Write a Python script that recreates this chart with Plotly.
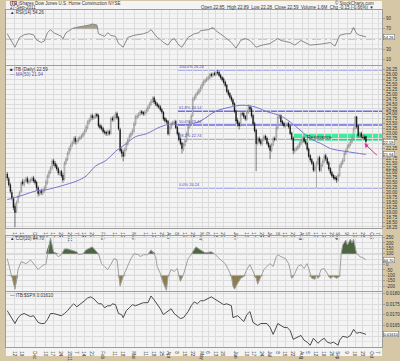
import pandas as pd
import plotly.graph_objects as go

# ---------------- data ----------------
opens = [20.95, 20.70, 20.40, 20.00, 19.70, 19.30, 19.05, 19.55, 19.85, 20.05,
         20.55, 20.40, 20.60, 20.72, 20.50, 20.58, 20.62, 20.75, 20.62, 20.52,
         20.25, 19.90, 20.08, 19.95, 20.08, 20.25, 20.50, 20.82, 21.02, 21.25,
         21.62, 21.48, 21.38, 21.22, 20.95, 21.08, 20.88, 20.70, 21.50, 21.68,
         22.00, 22.20, 22.40, 22.52, 22.78, 22.55, 22.62, 22.72, 22.78, 22.86,
         22.98, 23.12, 23.30, 23.55, 23.68, 23.92, 23.78, 23.82, 23.98, 23.92,
         23.42, 23.35, 23.26, 23.10, 23.08, 22.95, 23.12, 23.00, 23.78, 23.68,
         23.82, 24.02, 23.82, 23.20, 22.18, 22.05, 21.88, 22.18, 22.45, 22.68,
         22.86, 22.98, 23.12, 23.48, 23.82, 23.88, 23.98, 24.12, 24.08, 23.98,
         24.08, 24.18, 24.32, 24.48, 24.62, 24.82, 24.62, 24.52, 24.42, 24.36,
         24.22, 24.10, 23.78, 23.68, 23.62, 23.00, 23.28, 23.46, 23.52, 23.62,
         23.32, 23.02, 22.74, 22.52, 22.20, 22.42, 22.62, 22.98, 23.32, 23.58,
         23.92, 24.72, 24.84, 24.98, 25.06, 25.18, 25.32, 25.48, 25.62, 25.68,
         25.78, 25.82, 26.02, 25.92, 26.06, 25.98, 26.12, 26.12, 25.98, 25.86,
         25.78, 25.62, 25.46, 25.18, 25.04, 24.86, 24.72, 24.52, 24.16, 23.68,
         23.54, 23.40, 24.02, 24.02, 23.88, 23.72, 24.08, 24.36, 24.26, 23.92,
         23.52, 23.18, 22.50, 22.76, 22.64, 22.48, 22.68, 22.88, 22.76, 22.52,
         22.38, 22.12, 22.42, 22.76, 22.70, 23.28, 23.82, 23.92, 23.62, 23.52,
         23.36, 23.42, 23.52, 23.36, 23.02, 22.78, 22.10, 22.18, 22.22, 22.32,
         22.46, 22.58, 22.78, 22.62, 22.52, 22.22, 21.88, 21.68, 21.52, 21.12,
         21.28, 21.46, 21.78, 21.12, 21.38, 21.56, 21.88, 21.72, 21.52, 21.22,
         21.02, 20.88, 20.78, 20.74, 20.62, 20.86, 21.30, 21.48, 21.62, 21.96,
         22.10, 22.30, 22.42, 22.56, 22.72, 23.26, 23.86, 23.38, 22.86, 23.02,
         22.82, 22.82, 22.85]
highs = [21.05, 20.80, 20.50, 20.15, 19.80, 19.45, 19.60, 19.90, 20.10, 20.60,
         20.70, 20.68, 20.80, 20.82, 20.70, 20.75, 20.82, 20.85, 20.70, 20.60,
         20.35, 20.15, 20.20, 20.20, 20.35, 20.65, 20.95, 21.15, 21.35, 21.70,
         21.72, 21.60, 21.48, 21.30, 21.15, 21.15, 21.00, 21.60, 21.80, 22.10,
         22.35, 22.50, 22.65, 22.85, 22.88, 22.75, 22.85, 22.90, 22.98, 23.10,
         23.25, 23.45, 23.70, 23.80, 24.00, 24.02, 23.95, 24.05, 24.05, 24.00,
         23.50, 23.45, 23.35, 23.20, 23.15, 23.20, 23.20, 23.85, 23.88, 23.95,
         24.10, 24.12, 23.90, 23.30, 22.30, 22.15, 22.30, 22.60, 22.80, 23.00,
         23.10, 23.25, 23.60, 23.95, 24.00, 24.10, 24.20, 24.20, 24.15, 24.20,
         24.30, 24.45, 24.60, 24.75, 24.89, 24.90, 24.72, 24.60, 24.52, 24.45,
         24.30, 24.15, 23.85, 23.78, 23.70, 23.40, 23.60, 23.65, 23.70, 23.70,
         23.40, 23.10, 22.82, 22.60, 22.55, 22.75, 23.10, 23.45, 23.70, 24.00,
         24.85, 24.95, 25.10, 25.20, 25.30, 25.45, 25.60, 25.75, 25.80, 25.90,
         25.95, 26.08, 26.10, 26.12, 26.15, 26.20, 26.24, 26.20, 26.05, 25.92,
         25.85, 25.70, 25.52, 25.25, 25.10, 24.95, 24.80, 24.60, 24.22, 23.80,
         23.62, 24.08, 24.10, 24.10, 23.95, 24.20, 24.49, 24.45, 24.35, 24.00,
         23.60, 23.25, 22.85, 22.85, 22.72, 22.80, 22.95, 22.95, 22.85, 22.60,
         22.45, 22.55, 22.85, 22.85, 23.40, 23.95, 24.00, 23.98, 23.70, 23.60,
         23.55, 23.58, 23.60, 23.45, 23.10, 22.85, 22.30, 22.35, 22.45, 22.60,
         22.70, 22.85, 22.85, 22.70, 22.60, 22.30, 21.95, 21.75, 21.60, 21.40,
         21.60, 21.85, 21.88, 21.50, 21.70, 21.95, 21.98, 21.82, 21.60, 21.30,
         21.10, 20.95, 20.88, 20.85, 21.00, 21.45, 21.60, 21.75, 22.10, 22.25,
         22.45, 22.55, 22.70, 22.85, 23.35, 23.89, 23.90, 23.45, 23.10, 23.10,
         22.95, 22.90, 22.89]
lows = [20.60, 20.30, 19.95, 19.60, 19.10, 18.24, 18.95, 19.45, 19.75, 19.98,
        20.35, 20.30, 20.50, 20.45, 20.40, 20.48, 20.52, 20.50, 20.40, 20.10,
        19.80, 19.82, 19.88, 19.85, 19.98, 20.15, 20.40, 20.72, 20.95, 21.15,
        21.35, 21.25, 21.10, 20.88, 20.85, 20.75, 20.50, 20.60, 21.40, 21.60,
        21.90, 22.10, 22.30, 22.45, 22.45, 22.45, 22.55, 22.65, 22.70, 22.80,
        22.90, 23.05, 23.20, 23.45, 23.60, 23.70, 23.70, 23.75, 23.80, 23.30,
        23.20, 23.15, 23.00, 22.95, 22.88, 22.88, 22.90, 22.95, 23.60, 23.60,
        23.75, 23.70, 23.15, 22.05, 21.80, 21.59, 21.80, 22.10, 22.38, 22.60,
        22.78, 22.90, 23.05, 23.40, 23.72, 23.80, 23.90, 23.95, 23.90, 23.90,
        24.00, 24.10, 24.25, 24.40, 24.55, 24.50, 24.40, 24.32, 24.25, 24.12,
        24.00, 23.65, 23.55, 23.50, 22.90, 22.90, 23.20, 23.38, 23.45, 23.22,
        22.90, 22.60, 22.40, 21.99, 22.10, 22.35, 22.55, 22.90, 23.25, 23.50,
        23.85, 24.65, 24.75, 24.92, 25.00, 25.10, 25.25, 25.40, 25.55, 25.62,
        25.70, 25.75, 25.85, 25.85, 25.92, 25.92, 26.00, 25.88, 25.75, 25.65,
        25.50, 25.35, 25.05, 24.90, 24.75, 24.60, 24.40, 24.05, 23.50, 23.35,
        23.20, 23.35, 23.90, 23.75, 23.65, 23.65, 24.00, 24.15, 23.80, 23.40,
        23.05, 21.09, 22.40, 22.50, 22.38, 22.40, 22.60, 22.65, 22.42, 22.25,
        21.70, 22.05, 22.35, 22.60, 22.62, 23.20, 23.75, 23.50, 23.40, 23.30,
        23.30, 23.35, 23.25, 22.92, 22.65, 21.95, 22.00, 22.10, 22.15, 22.25,
        22.38, 22.50, 22.52, 22.40, 22.10, 21.75, 21.55, 21.40, 21.05, 21.05,
        20.24, 21.40, 21.05, 21.05, 21.30, 21.50, 21.60, 21.40, 21.10, 20.90,
        20.75, 20.65, 20.60, 20.49, 20.55, 20.80, 21.25, 21.40, 21.55, 21.90,
        22.05, 22.25, 22.35, 22.50, 22.65, 23.20, 23.25, 22.80, 22.80, 22.75,
        22.70, 22.68, 22.28]
closes = [20.74, 20.39, 20.05, 19.74, 19.24, 18.99, 19.49, 19.80, 19.99, 20.49,
          20.45, 20.59, 20.70, 20.54, 20.60, 20.64, 20.72, 20.59, 20.50, 20.24,
          19.94, 20.05, 19.99, 20.10, 20.24, 20.55, 20.84, 21.05, 21.24, 21.59,
          21.45, 21.34, 21.20, 20.99, 21.05, 20.84, 20.64, 21.49, 21.70, 21.99,
          22.24, 22.39, 22.55, 22.74, 22.59, 22.65, 22.74, 22.80, 22.89, 23.00,
          23.14, 23.35, 23.59, 23.70, 23.89, 23.80, 23.84, 23.95, 23.89, 23.39,
          23.30, 23.24, 23.09, 23.05, 22.99, 23.10, 22.99, 23.74, 23.70, 23.84,
          23.99, 23.80, 23.24, 22.14, 22.00, 21.84, 22.20, 22.49, 22.70, 22.89,
          23.00, 23.14, 23.50, 23.84, 23.90, 24.00, 24.09, 24.05, 23.99, 24.10,
          24.20, 24.34, 24.50, 24.64, 24.79, 24.60, 24.49, 24.40, 24.34, 24.20,
          24.09, 23.74, 23.65, 23.59, 22.99, 23.30, 23.49, 23.55, 23.59, 23.30,
          22.99, 22.70, 22.49, 22.24, 22.45, 22.64, 23.00, 23.34, 23.60, 23.89,
          24.74, 24.85, 25.00, 25.09, 25.20, 25.34, 25.50, 25.64, 25.70, 25.80,
          25.84, 25.99, 25.95, 26.04, 26.00, 26.10, 26.09, 25.95, 25.84, 25.74,
          25.60, 25.44, 25.14, 25.00, 24.84, 24.70, 24.49, 24.14, 23.64, 23.50,
          23.39, 23.99, 23.99, 23.85, 23.74, 24.10, 24.34, 24.24, 23.89, 23.50,
          23.14, 22.49, 22.74, 22.60, 22.49, 22.70, 22.84, 22.74, 22.50, 22.34,
          22.14, 22.45, 22.74, 22.69, 23.30, 23.84, 23.89, 23.59, 23.50, 23.39,
          23.45, 23.49, 23.34, 23.00, 22.74, 22.14, 22.20, 22.24, 22.35, 22.49,
          22.60, 22.74, 22.60, 22.49, 22.20, 21.84, 21.65, 21.49, 21.14, 21.30,
          21.49, 21.74, 21.14, 21.40, 21.59, 21.84, 21.70, 21.49, 21.20, 20.99,
          20.84, 20.74, 20.70, 20.64, 20.89, 21.34, 21.50, 21.64, 21.99, 22.14,
          22.34, 22.45, 22.59, 22.74, 23.24, 23.84, 23.34, 22.89, 22.99, 22.84,
          22.80, 22.74, 22.59]

ma50_idx = [0, 9, 19, 25, 35, 45, 51, 57, 64, 70, 77, 83, 90, 99, 106, 112, 119,
            125, 135, 144, 152, 161, 167, 177, 183, 190, 196, 203, 209, 219, 232]
ma50_vals = [19.64, 19.84, 20.09, 20.14, 20.34, 20.59, 20.84, 21.34, 21.64, 22.09,
             22.49, 22.84, 22.99, 23.34, 23.49, 23.44, 23.49, 23.64, 24.14, 24.34,
             24.44, 24.34, 24.14, 23.89, 23.59, 23.14, 22.74, 22.49, 22.24, 22.09, 21.94]

rsi_idx = [0, 3, 5, 8, 11, 14, 17, 19, 22, 24, 26, 28, 30, 33, 35, 36, 38, 40, 42, 44,
           46, 50, 53, 55, 58, 59, 61, 63, 65, 67, 70, 72, 75, 78, 82, 85, 88, 91, 93, 97,
           99, 101, 104, 106, 108, 111, 113, 117, 121, 124, 125, 130, 133, 135, 138, 141,
           145, 148, 151, 154, 157, 161, 165, 170, 175, 177, 183, 186, 190, 196, 203, 209,
           212, 215, 219, 222, 224, 226, 228, 232]
rsi_vals = [60, 45, 34, 53, 58, 60, 58, 48, 43, 46, 62, 68, 62, 58, 55, 50, 62, 66, 70, 72,
            73, 75, 77, 79, 77, 60, 57, 55, 62, 57, 55, 41, 34, 53, 57, 58, 60, 63, 68, 53,
            49, 43, 38, 47, 51, 38, 34, 53, 60, 62, 66, 68, 72, 66, 60, 53, 43, 32, 47, 51,
            47, 34, 38, 41, 51, 47, 43, 38, 47, 38, 40, 43, 36, 57, 60, 60, 72, 60, 57, 54.26]

cci_idx = [0, 3, 5, 7, 9, 12, 14, 15, 17, 20, 22, 24, 25, 27, 28, 30, 33, 35, 37, 39,
           41, 45, 46, 49, 51, 54, 55, 59, 61, 63, 65, 67, 69, 71, 72, 73, 75, 77, 80, 82,
           85, 86, 88, 91, 93, 96, 97, 99, 101, 103, 104, 106, 108, 110, 111, 112, 114, 117, 119, 121,
           122, 125, 128, 132, 134, 138, 141, 143, 145, 146, 147, 149, 151, 153, 155, 157, 159, 161, 162, 164,
           166, 168, 170, 172, 174, 175, 177, 180, 182, 183, 184, 186, 188, 190, 192, 194, 195, 197, 199, 200,
           201, 203, 205, 207, 209, 211, 213, 215, 216, 217, 219, 220, 222, 223, 224, 226, 227, 228, 230, 232]
cci_vals = [55, -109, -227, -45, 27, 9, 27, 45, 9, -45, -18, 0, 0, 191, 245, 118, 73, 91, 145, 145,
            136, 118, 91, 100, 136, 155, 164, 100, 9, -18, -45, 0, 55, 45, -109, -200, -109, -36, 55, 100,
            91, 73, 91, 91, 136, 73, -18, -82, -173, -238, -109, -45, -64, -36, -109, -155, -91, 55, 91, 145,
            164, 136, 109, 118, 100, 45, 9, -45, -109, -200, -227, -173, -127, -109, -45, 0, -64, -127, -182, -109,
            -45, -18, 9, -18, 73, 91, 73, 55, 9, -45, -127, -82, -18, 0, -36, 9, -45, -127, -136, -100,
            -127, -45, -36, -82, -127, -109, -127, -109, 100, 182, 227, 182, 236, 200, 236, 100, 91, 73, 64, 44.7]

ratio_idx = [0, 3, 5, 7, 9, 11, 14, 15, 17, 20, 22, 24, 26, 28, 30, 33, 35, 37, 39, 41,
             43, 45, 46, 48, 50, 52, 54, 56, 59, 61, 63, 65, 67, 68, 70, 72, 74, 75, 77, 79,
             81, 83, 85, 88, 91, 93, 95, 97, 99, 101, 104, 106, 108, 110, 112, 114, 117, 119, 121, 123,
             125, 127, 130, 132, 134, 136, 138, 140, 142, 145, 146, 149, 151, 153, 155, 157, 159, 162, 164, 166,
             168, 170, 172, 175, 177, 179, 181, 183, 185, 188, 190, 192, 194, 196, 198, 201, 203, 205, 207, 209,
             211, 214, 215, 217, 220, 222, 224, 226, 228, 230, 232]
ratio_vals = [0.01719, 0.01683, 0.01660, 0.01687, 0.01701, 0.01706, 0.01696, 0.01692, 0.01696, 0.01665,
              0.01660, 0.01660, 0.01678, 0.01706, 0.01706, 0.01701, 0.01696, 0.01706, 0.01719, 0.01737,
              0.01751, 0.01737, 0.01742, 0.01751, 0.01765, 0.01778, 0.01783, 0.01774, 0.01751, 0.01751,
              0.01733, 0.01742, 0.01742, 0.01751, 0.01747, 0.01706, 0.01701, 0.01687, 0.01719, 0.01733,
              0.01747, 0.01742, 0.01747, 0.01756, 0.01756, 0.01787, 0.01769, 0.01751, 0.01728, 0.01701,
              0.01719, 0.01728, 0.01706, 0.01696, 0.01683, 0.01687, 0.01715, 0.01742, 0.01760, 0.01751,
              0.01765, 0.01765, 0.01778, 0.01783, 0.01774, 0.01765, 0.01756, 0.01747, 0.01751, 0.01742,
              0.01687, 0.01696, 0.01683, 0.01669, 0.01701, 0.01715, 0.01665, 0.01651, 0.01660, 0.01660,
              0.01660, 0.01642, 0.01610, 0.01660, 0.01651, 0.01642, 0.01642, 0.01628, 0.01587, 0.01596,
              0.01605, 0.01583, 0.01574, 0.01560, 0.01592, 0.01569, 0.01583, 0.01592, 0.01574, 0.01569,
              0.01574, 0.01560, 0.01583, 0.01601, 0.01596, 0.01605, 0.01633, 0.01615, 0.01619, 0.01615,
              0.01610]

fib_levels = [26.24, 24.14, 23.44, 22.74, 20.24]
fib_names = ["100.0%", "61.8%", "50.0%", "38.2%", "0.0%"]
fib_start = 110
resistance_zone = [22.64, 22.99]
resistance_start = 186

rsi_ticks = [10, 30, 50, 70, 90]
price_ticks = [18.25 + 0.25 * k for k in range(33)]
cci_ticks = [-200, -150, -100, -50, 0, 50, 100, 150, 200, 250]
ratio_ticks = [0.0155, 0.0160, 0.0165, 0.0170, 0.0175, 0.0180]

dates = pd.bdate_range(end="2011-09-27", periods=len(closes))
xs = list(range(len(closes)))

# ---------------- date ticks ----------------
axis_dates = pd.bdate_range(start=dates[0], end="2011-10-14")
month_starts = [j for j in range(1, len(axis_dates))
                if axis_dates[j].month != axis_dates[j - 1].month]
tickvals, ticktext = [], []
for j, d in enumerate(axis_dates):
    if j in month_starts:
        tickvals.append(j)
        ticktext.append("2011" if d.month == 1 else d.strftime("%b"))
    elif d.weekday() == 4 and j >= 2 and all(abs(j - m) > 3 for m in month_starts):
        tickvals.append(j)
        ticktext.append(str(d.day))

# ---------------- styles ----------------
W, H = 400, 361
TAN = "#d6c7a6"
BG = "#f4f4f4"
GRID = "#dcdcdc"
BORDER = "#9c9c9c"
TXT = "#333333"
FONT = "Liberation Sans"
XR = [-0.8, 242.4]


def dom(top, bottom):
    return [1 - bottom / H, 1 - top / H]


fig = go.Figure()

# RSI panel
rsi_hi = [max(v, 70) for v in rsi_vals]
fig.add_trace(go.Scatter(x=rsi_idx, y=[70] * len(rsi_idx), mode="lines",
                         line=dict(width=0), xaxis="x", yaxis="y", hoverinfo="skip"))
fig.add_trace(go.Scatter(x=rsi_idx, y=rsi_hi, mode="lines", line=dict(width=0),
                         fill="tonexty", fillcolor="#a59e8b", xaxis="x", yaxis="y"))
fig.add_trace(go.Scatter(x=rsi_idx, y=rsi_vals, mode="lines",
                         line=dict(color="#8a8a8a", width=1), xaxis="x", yaxis="y"))

# Price panel
fig.add_trace(go.Candlestick(
    x=xs, open=opens, high=highs, low=lows, close=closes,
    increasing=dict(line=dict(color="#707070", width=0.5), fillcolor="#ffffff"),
    decreasing=dict(line=dict(color="#000000", width=0.5), fillcolor="#000000"),
    whiskerwidth=0, xaxis="x2", yaxis="y2"))
fig.add_trace(go.Scatter(x=ma50_idx, y=ma50_vals, mode="lines", line_shape="spline",
                         line=dict(color="#7b74cc", width=1), xaxis="x2", yaxis="y2"))

# CCI panel
cci_hi = [max(v, 100) for v in cci_vals]
cci_lo = [min(v, -100) for v in cci_vals]
fig.add_trace(go.Scatter(x=cci_idx, y=[100] * len(cci_idx), mode="lines",
                         line=dict(width=0), xaxis="x3", yaxis="y3"))
fig.add_trace(go.Scatter(x=cci_idx, y=cci_hi, mode="lines", line=dict(width=0),
                         fill="tonexty", fillcolor="#4c6641", xaxis="x3", yaxis="y3"))
fig.add_trace(go.Scatter(x=cci_idx, y=[-100] * len(cci_idx), mode="lines",
                         line=dict(width=0), xaxis="x3", yaxis="y3"))
fig.add_trace(go.Scatter(x=cci_idx, y=cci_lo, mode="lines", line=dict(width=0),
                         fill="tonexty", fillcolor="#8c7d52", xaxis="x3", yaxis="y3"))
fig.add_trace(go.Scatter(x=cci_idx, y=cci_vals, mode="lines",
                         line=dict(color="#a0a0a0", width=1), xaxis="x3", yaxis="y3"))

# Ratio panel
fig.add_trace(go.Scatter(x=ratio_idx, y=ratio_vals, mode="lines",
                         line=dict(color="#4a4a4a", width=1), xaxis="x4", yaxis="y4"))

# ---------------- axes ----------------
def xax(show_labels, anchor):
    return dict(range=XR, tickmode="array", tickvals=tickvals, ticktext=ticktext,
                showticklabels=show_labels, showgrid=True, gridcolor=GRID, gridwidth=1,
                zeroline=False, showline=True, linecolor=BORDER, linewidth=1, mirror=True,
                ticks="", ticklen=0, tickfont=dict(size=4.5, color=TXT, family=FONT),
                anchor=anchor, rangeslider=dict(visible=False), fixedrange=True)


def yax(domain, rng, ticks, fmt, boxed, gap, minor_dtick=None):
    text = [("" if any(abs(t - b) < gap for b in boxed) else fmt % t) for t in ticks]
    d = dict(domain=domain, range=rng, side="right", tickmode="array", tickvals=ticks,
             ticktext=text, showgrid=True, gridcolor=GRID, gridwidth=1,
             zeroline=False, showline=True, linecolor=BORDER, linewidth=1, mirror=True,
             ticks="outside", ticklen=2, tickcolor=BORDER,
             tickfont=dict(size=4.5, color=TXT, family=FONT), fixedrange=True)
    if minor_dtick:
        d["minor"] = dict(dtick=minor_dtick, showgrid=True, gridcolor="#e6e6e6")
    return d


last = len(closes) - 1
fig.update_layout(
    width=W, height=H, margin=dict(l=6, r=17, t=0, b=0),
    paper_bgcolor=TAN, plot_bgcolor="rgba(0,0,0,0)", showlegend=False,
    font=dict(family=FONT, size=5, color=TXT),
    xaxis=xax(False, "y"),
    xaxis2=xax(True, "y2"),
    xaxis3=xax(False, "y3"),
    xaxis4=xax(True, "y4"),
    yaxis=yax(dom(9, 65), [-0.5, 106.5], rsi_ticks, "%d", [rsi_vals[-1]], 9, 10),
    yaxis2=yax(dom(66, 231), [18.19, 26.44], price_ticks, "%.2f",
               [closes[last], ma50_vals[-1]], 0.16),
    yaxis3=yax(dom(239, 295), [-245, 264], cci_ticks, "%d", [cci_vals[-1]], 40),
    yaxis4=yax(dom(296, 352), [0.01551, 0.01805], ratio_ticks, "%.4f",
               [ratio_vals[-1]], 0.0003, 0.00025),
)

shapes = [dict(type="rect", xref="paper", yref="paper", x0=0, x1=1, y0=0, y1=1,
               fillcolor=BG, line=dict(width=0), layer="below")]
# resistance zone
shapes.append(dict(type="rect", xref="x2", yref="y2", x0=resistance_start - 0.5, x1=XR[1],
                   y0=resistance_zone[0], y1=resistance_zone[1],
                   fillcolor="#3ded9c", line=dict(width=0), layer="below"))
# fibonacci lines
for lvl in fib_levels:
    shapes.append(dict(type="line", xref="x2", yref="y2", x0=fib_start, x1=XR[1],
                       y0=lvl, y1=lvl, line=dict(color="#6c6ce6", width=1.5),
                       layer="below"))
# indicator level lines
for xref, yref, lvl, dash in [("x", "y", 70, "solid"), ("x", "y", 30, "solid"),
                              ("x", "y", 50, "dashdot"), ("x3", "y3", 100, "solid"),
                              ("x3", "y3", -100, "solid"), ("x3", "y3", 0, "dashdot")]:
    shapes.append(dict(type="line", xref=xref, yref=yref, x0=XR[0], x1=XR[1], y0=lvl, y1=lvl,
                       line=dict(color="#8f8f8f", width=1, dash=dash), layer="below"))
fig.update_layout(shapes=shapes)

ann = []


def txt(x, ypix, text, anchor="left", color=TXT, size=5):
    ann.append(dict(x=x, y=1 - ypix / H, xref="paper", yref="paper", text=text,
                    showarrow=False, xanchor=anchor, yanchor="middle",
                    font=dict(size=size, color=color, family=FONT)))


chg = closes[last] - closes[last - 1]
txt(0.005, 2.5, "<b>ITB</b> iShares Dow Jones U.S. Home Construction NYSE", size=4.5)
txt(0.005, 6.5, "27-Sep-2011", size=4.5)
txt(0.985, 2.5, "© StockCharts.com", anchor="right", size=4.5)
txt(0.985, 6.5, "Open %.2f  High %.2f  Low %.2f  Close %.2f  Volume 1.6M  Chg %.2f (%.2f%%) ▼"
    % (opens[last], highs[last], lows[last], closes[last], chg, chg / closes[last - 1] * 100),
    anchor="right", size=4.5)
txt(0.005, 12, "▲ RSI(14) %.2f" % rsi_vals[-1], size=4.5)
txt(0.005, 70, "■ ITB (Daily) %.2f" % closes[last], size=4.5)
txt(0.005, 74.5, "— MA(50) %.2f" % ma50_vals[-1], color="#5a54b8", size=4.5)
txt(0.005, 242, "▲ CCI(20) %.2f" % cci_vals[-1], size=4.5)
txt(0.005, 299.5, "— ITB:$SPX %.5f" % ratio_vals[-1], size=4.5)

for lvl, name in zip(fib_levels, fib_names):
    ann.append(dict(x=fib_start, y=lvl, xref="x2", yref="y2", text="%s %.2f" % (name, lvl),
                    showarrow=False, xanchor="left", yanchor="bottom", yshift=-1,
                    font=dict(size=4, color="#4b4bb0", family=FONT)))

ann.append(dict(x=(resistance_start + XR[1]) / 2 - 12, y=sum(resistance_zone) / 2,
                xref="x2", yref="y2", text="Resistance", showarrow=False,
                font=dict(size=5, color="#1d3b26", family=FONT)))

ann.append(dict(x=last - 1, y=closes[last] - 0.1, xref="x2", yref="y2", text="",
                showarrow=True, ax=14, ay=13, arrowhead=2, arrowsize=0.8,
                arrowwidth=1, arrowcolor="#e0309a"))

# value boxes on the right axes
for yref, val, fmt in [("y", rsi_vals[-1], "%.2f"), ("y2", closes[last], "%.2f"),
                       ("y2", ma50_vals[-1], "%.2f"), ("y3", cci_vals[-1], "%.2f"),
                       ("y4", ratio_vals[-1], "%.5f")]:
    ann.append(dict(x=1, xref="paper", y=val, yref=yref, text=fmt % val, showarrow=False,
                    xanchor="left", xshift=1, bgcolor="#ffffff", bordercolor="#666666",
                    borderwidth=0.5, borderpad=0,
                    font=dict(size=4, color="#000000", family=FONT)))

fig.update_layout(annotations=ann)
fig.write_html("out.html")
